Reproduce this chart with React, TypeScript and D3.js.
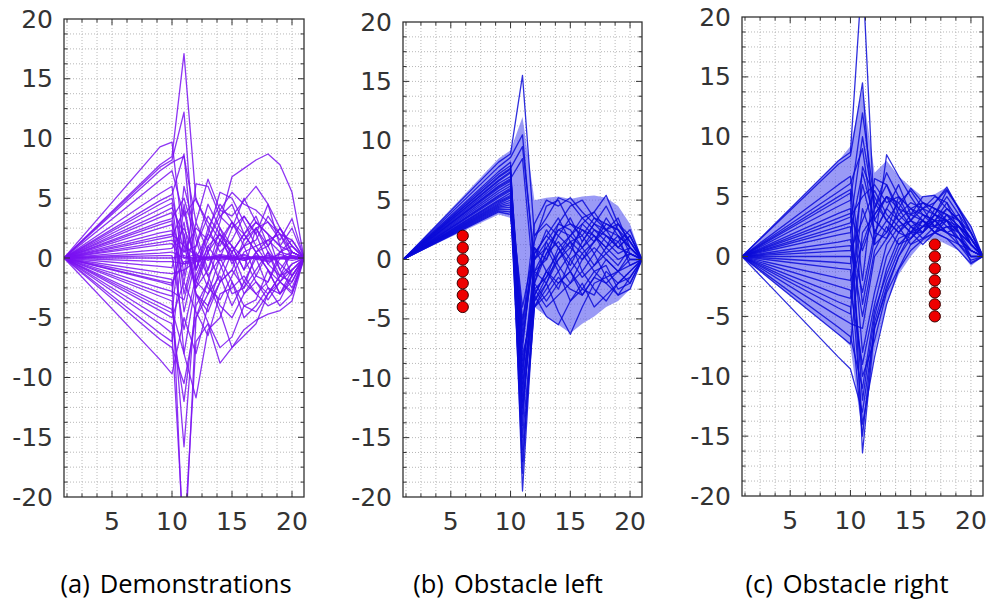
import React from "react";
import * as d3 from "d3";

// x positions at which every trajectory is sampled (straight segment from x=1 to x=9)
const X_STEPS = [1, 9, 10, 11, 12, 13, 14, 15, 16, 17, 18, 19, 20, 21];
const X_MAJOR = [5, 10, 15, 20];
const Y_MAJOR = [-20, -15, -10, -5, 0, 5, 10, 15, 20];
const X_DOMAIN = [1, 21];
const Y_DOMAIN = [-20, 20];

// (a) Demonstrations
const demoTrajectories: number[][] = [
  [0, 9.3, 9.7, 1.0, -2.5, 0.5, 2.0, 1.0, -1.0, 0.5, 1.5, 0.5, 0.2, 0],
  [0, 7.8, 8.5, 17.1, 4.8, 3.0, 1.5, 0.5, 2.0, 3.0, 2.0, 1.0, 0.5, 0],
  [0, 7.6, 8.2, 12.2, -1.0, 2.5, 4.5, 3.0, 1.5, 2.5, 0.5, -1.5, 0.5, 0],
  [0, 7.3, 8.0, 8.5, 3.0, 6.6, 4.0, 5.5, 4.5, 4.0, 3.0, 2.0, 1.5, 0],
  [0, 6.5, 7.3, 3.5, 5.0, 2.5, 0.5, 1.5, 3.5, 2.0, 4.5, 2.5, 1.0, 0],
  [0, 5.4, 6.0, -1.5, 6.2, 6.0, 3.5, 4.5, 2.0, 3.5, 1.0, 2.5, 1.0, 0],
  [0, 4.8, 5.3, 8.7, -2.0, 0.5, 3.0, 6.8, 7.5, 8.2, 8.7, 7.8, 5.5, 0],
  [0, 4.5, 5.0, 0.5, 2.5, 1.5, 4.0, 3.5, 4.8, 6.0, 4.5, 1.0, -1.5, 0],
  [0, 4.1, 4.6, -3.0, 1.0, 3.5, 2.0, -0.5, 1.0, 2.5, 3.0, 1.5, 3.3, 0],
  [0, 3.7, 4.2, 2.0, -2.5, -1.0, 1.5, 3.0, 2.0, 0.5, -1.0, -2.0, -0.5, 0],
  [0, 3.4, 3.8, -4.5, 0.0, 2.0, 5.5, 5.0, 3.0, 1.0, 1.5, 2.0, 0.0, 0],
  [0, 3.0, 3.3, 5.0, 1.5, -1.5, 0.0, 2.5, 3.5, 2.0, -0.5, 0.5, 1.0, 0],
  [0, 2.8, 3.1, -8.0, -2.0, -3.0, -1.5, -4.0, -2.0, 0.0, -2.5, -4.0, -3.0, 0],
  [0, 2.5, 2.8, 0.0, 0.3, -0.2, 0.2, 0.0, 0.3, -0.1, 0.2, 0.0, 0.1, 0],
  [0, 2.1, 2.3, -2.0, 3.0, 0.5, -2.0, -1.0, 1.5, 3.0, 2.0, -1.0, -2.5, 0],
  [0, 1.8, 2.0, 1.0, 0.2, 0.0, 0.3, 0.1, -0.2, 0.2, 0.0, 0.3, 0.0, 0],
  [0, 1.6, 1.8, 4.0, -1.0, 2.0, 1.0, 3.0, 1.0, -1.5, -2.0, 0.5, 1.5, 0],
  [0, 1.3, 1.5, 0.5, 1.0, 4.5, 2.5, 0.0, 1.0, 1.5, 3.5, 2.0, 0.5, 0],
  [0, 1.1, 1.2, -0.5, -0.3, 0.1, -0.2, 0.0, 0.2, -0.1, -0.3, 0.0, 0.2, 0],
  [0, 0.7, 0.8, 2.5, 0.0, -2.5, -3.5, -1.5, 0.5, 1.0, -0.5, -1.5, -1.0, 0],
  [0, 0.4, 0.5, 0.0, 0.0, 0.1, 0.0, -0.1, 0.0, 0.1, 0.0, 0.0, 0.0, 0],
  [0, 0.2, 0.2, -6.0, -1.5, 1.0, 2.0, 0.5, -2.0, -3.0, -2.0, 0.0, 0.5, 0],
  [0, 0.0, 0.0, 0.2, -0.1, 0.0, 0.1, -0.1, 0.0, 0.0, 0.1, -0.1, 0.0, 0],
  [0, -0.3, -0.3, -0.5, 0.1, -0.1, 0.0, 0.2, -0.1, 0.0, -0.2, 0.1, 0.0, 0],
  [0, -0.7, -0.8, 3.0, -3.0, -4.5, -2.0, 0.5, 2.0, 0.5, -1.0, -3.0, -1.5, 0],
  [0, -1.2, -1.3, -1.0, -0.3, 0.0, 0.2, -0.2, 0.0, 0.1, -0.1, 0.0, -0.2, 0],
  [0, -1.6, -1.8, -26.0, -5.0, -2.0, 1.5, 0.0, -3.0, -1.5, 0.5, -2.0, -1.0, 0],
  [0, -1.9, -2.1, -0.3, -0.2, 0.0, 0.1, 0.0, -0.2, 0.1, 0.0, 0.0, 0.1, 0],
  [0, -2.0, -2.3, 1.5, -2.0, 1.0, -0.5, -3.0, -2.5, 0.5, 1.0, -1.0, 0.5, 0],
  [0, -2.5, -2.8, -3.5, 0.5, -1.5, -4.0, -5.0, -3.0, -2.0, -3.5, -2.0, -2.8, 0],
  [0, -2.9, -3.2, 6.0, 2.0, -1.0, 2.5, 1.0, -1.0, 2.5, 1.0, 2.5, 0.5, 0],
  [0, -3.2, -3.6, -15.8, -3.0, -4.0, -1.0, 1.0, 0.0, -2.0, -3.0, -1.5, -0.5, 0],
  [0, -3.8, -4.3, -8.0, -11.7, -6.0, -5.0, -2.0, -4.0, -3.5, -1.0, -3.0, -2.0, 0],
  [0, -4.1, -4.6, 4.5, -1.0, 1.5, 3.5, 2.5, 5.0, 3.0, 2.0, 1.0, 2.5, 0],
  [0, -4.4, -5.0, -2.0, -4.5, -6.5, -3.0, -2.5, -1.5, -3.0, -4.0, -3.5, -1.5, 0],
  [0, -5.0, -5.5, -12.0, -4.0, -2.0, -4.5, -7.5, -6.5, -5.5, -3.0, -2.0, -3.0, 0],
  [0, -5.5, -6.3, -24.0, -7.0, -5.5, -8.8, -7.5, -6.0, -5.2, -4.7, -4.4, -3.6, 0],
  [0, -6.3, -7.0, 2.0, -3.0, -5.4, -7.5, -6.6, -4.0, -4.5, -3.0, -1.5, -2.0, 0],
  [0, -6.8, -7.5, -10.5, -5.0, -3.0, 0.0, -2.0, -5.0, -4.0, -2.5, -3.0, -1.0, 0],
  [0, -8.5, -9.7, -5.0, -8.0, -4.0, -2.0, -1.0, -2.5, -1.0, 0.5, -0.5, -1.5, 0],
];

// (b) Obstacle left
const leftTrajectories: number[][] = [
  [0, 8.2, 8.9, 15.5, 2.0, 3.5, 5.2, 4.8, 3.5, 4.0, 5.4, 3.0, 2.0, 0],
  [0, 7.8, 8.6, 10.5, -1.0, 1.0, 2.5, 3.0, 2.0, 3.5, 3.0, 2.5, 1.5, 0],
  [0, 7.4, 8.2, -19.5, -3.0, -1.0, 0.5, 2.0, 1.0, 2.5, 1.5, 0.5, 1.0, 0],
  [0, 7.2, 7.9, -11.0, -2.0, 1.5, 3.0, 4.5, 5.0, 3.5, 2.5, 2.0, 1.0, 0],
  [0, 7.0, 7.7, 9.5, 0.0, 2.5, 1.0, 2.0, 3.0, 4.0, 2.5, 1.0, 2.0, 0],
  [0, 6.9, 7.6, -8.0, -4.0, -2.0, -4.4, -6.3, -4.0, -2.0, -1.5, -3.0, -2.5, 0],
  [0, 6.7, 7.4, -10.0, 0.0, 1.5, -0.5, -2.0, 0.0, 1.5, 2.5, 3.5, 1.0, 0],
  [0, 6.6, 7.3, -14.0, 0.5, 2.0, 1.0, -0.5, 1.5, 3.0, 2.0, 1.0, 0.5, 0],
  [0, 6.4, 7.0, -6.0, 1.5, 4.5, 5.0, 3.0, 2.5, 1.5, 3.5, 2.0, -0.5, 0],
  [0, 6.2, 6.8, 8.5, -2.5, -1.5, 0.0, 1.5, -1.0, 0.5, 2.0, 1.5, 0.0, 0],
  [0, 6.1, 6.7, -7.0, 1.0, 0.0, 3.0, 2.5, 1.0, -0.5, 0.5, 1.5, 2.5, 0],
  [0, 6.0, 6.6, -17.0, -4.0, -3.0, -1.5, -2.5, -3.0, -1.5, -2.0, -1.0, -0.5, 0],
  [0, 5.8, 6.4, -9.5, -1.0, 0.0, 2.0, 1.0, 2.5, 2.0, 1.0, 3.0, 1.5, 0],
  [0, 5.6, 6.2, -12.5, -2.5, -4.0, -3.0, -2.0, -1.0, -2.5, -3.5, -2.0, -1.0, 0],
  [0, 5.4, 6.0, -5.0, 0.0, 1.0, -1.0, 0.5, 3.0, 2.0, 0.5, -0.5, 1.0, 0],
  [0, 5.3, 5.9, -18.0, -2.0, -3.5, -2.0, -1.0, -2.5, -1.0, -0.5, -2.5, -2.0, 0],
  [0, 5.2, 5.8, -15.0, -3.5, -2.0, 0.0, 1.0, 0.0, 1.0, 0.0, -1.0, 0.5, 0],
  [0, 5.0, 5.6, -7.5, 2.0, 3.0, 2.0, 3.5, 1.5, 3.0, 4.5, 2.5, 0.5, 0],
  [0, 4.9, 5.4, -10.5, -3.0, -4.8, -5.5, -3.5, -2.0, -4.0, -3.0, -2.0, -1.5, 0],
  [0, 4.8, 5.3, -12.0, -3.5, -1.5, 1.0, -1.0, -3.0, -1.5, 0.0, -1.0, -2.0, 0],
  [0, 4.7, 5.2, -13.0, -1.5, 0.5, 1.5, 0.0, -1.5, -0.5, 1.0, 0.0, 0.5, 0],
  [0, 4.6, 5.0, -4.0, 1.0, -1.0, -2.0, -1.0, 0.5, -1.0, -2.0, -3.0, -1.5, 0],
  [0, 4.5, 4.8, -9.0, -2.0, 0.5, 2.5, 2.0, 3.5, 2.5, 2.0, 1.0, 2.0, 0],
  [0, 4.4, 4.6, -16.0, -4.0, -2.5, -1.0, -3.5, -2.5, -3.0, -1.0, -2.0, -1.0, 0],
  [0, 4.3, 4.4, -6.5, 0.5, 2.0, 3.5, 1.5, 0.5, 1.5, 3.0, 2.5, 1.0, 0],
  [0, 4.2, 4.2, -11.5, -1.0, -2.0, 0.5, 1.5, 2.0, 0.5, -1.5, -1.0, 0.0, 0],
  [0, 4.1, 4.0, -8.5, -3.0, -1.0, -2.5, 0.0, 1.0, 2.0, 1.0, 2.0, 1.0, 0],
  [0, 4.0, 3.8, -5.5, 3.0, 5.0, 4.5, 5.2, 4.0, 3.0, 2.5, 3.0, 1.5, 0],
];
const leftBandUpper = [0, 8.5, 9.2, 12.0, 5.0, 5.2, 5.3, 5.1, 5.3, 5.4, 5.2, 4.5, 3.0, 0];
const leftBandLower = [0, 3.8, 3.5, -15.0, -4.0, -4.8, -5.5, -6.2, -5.4, -4.8, -4.0, -3.5, -2.5, 0];
const leftObstacleX = 6;
const leftObstacleY = [2, 1, 0, -1, -2, -3, -4];

// (c) Obstacle right
const rightTrajectories: number[][] = [
  [0, 8.0, 8.7, 24.0, 3.0, 5.0, 4.5, 3.0, 4.0, 4.5, 5.8, 3.9, 2.0, 0],
  [0, 7.7, 8.4, 14.5, 1.0, 8.5, 6.7, 5.0, 3.5, 3.0, 4.0, 3.0, 1.5, 0],
  [0, 6.0, 6.7, -2.0, 6.5, 6.0, 4.0, 5.7, 4.5, 3.5, 5.5, 4.0, 2.5, 0],
  [0, 5.4, 6.1, 9.0, 2.0, 4.0, 6.0, 3.5, 5.0, 5.1, 4.0, 3.0, 1.0, 0],
  [0, 5.0, 5.6, -4.0, 1.5, 3.0, 4.5, 5.5, 4.0, 2.5, 3.0, 1.5, 0.5, 0],
  [0, 4.7, 5.3, -16.4, -6.0, -2.8, 0.0, 1.5, 2.5, 3.0, 2.0, 1.0, 0.5, 0],
  [0, 4.2, 4.7, 12.0, 4.5, 3.0, 2.0, 3.5, 3.0, 2.0, 3.5, 2.5, 1.0, 0],
  [0, 3.6, 4.0, -8.0, -3.0, 1.0, 2.5, 3.0, 2.0, 4.0, 3.0, 2.0, -0.5, 0],
  [0, 3.2, 3.6, 0.5, 3.5, 5.0, 3.0, 2.0, 1.0, 2.0, 1.5, 1.0, 0.0, 0],
  [0, 2.9, 3.3, 5.0, 6.0, 4.5, 5.0, 4.0, 3.0, 2.5, 2.0, 1.5, 0.5, 0],
  [0, 2.5, 2.8, 10.0, 4.0, 7.0, 5.0, 4.0, 4.5, 4.0, 3.5, 2.5, 1.5, 0],
  [0, 2.2, 2.5, -12.0, -5.0, -1.0, 1.5, 2.0, 3.5, 2.5, 3.5, 3.0, 1.5, 0],
  [0, 1.8, 2.0, 7.0, 3.0, 2.0, 3.5, 4.5, 4.0, 5.0, 4.5, 2.0, 1.0, 0],
  [0, 1.2, 1.4, -3.0, 2.0, 1.5, 4.0, 2.5, 1.5, 2.0, 2.5, 2.0, 0.0, 0],
  [0, 0.8, 0.9, -5.0, 0.5, 2.5, 1.0, 2.0, 3.0, 2.0, 1.5, 0.5, -0.6, 0],
  [0, 0.45, 0.5, 3.0, 5.5, 3.5, 2.5, 1.0, 2.0, 3.5, 2.5, 2.5, 1.5, 0],
  [0, 0.0, 0.0, -10.0, -7.0, -3.0, -1.0, 1.0, 1.5, 2.5, 4.0, 3.0, 2.0, 0],
  [0, -0.5, -0.6, 6.0, 2.0, 4.0, 3.0, 2.0, 2.5, 3.5, 3.0, 3.5, 1.0, 0],
  [0, -1.0, -1.1, -14.0, -8.4, -4.0, -1.1, 0.5, 1.4, 2.0, 2.5, 1.5, 0.0, 0],
  [0, -1.8, -2.0, 1.0, 4.0, 6.0, 3.5, 2.5, 2.0, 3.0, 4.5, 3.0, 1.5, 0],
  [0, -2.5, -2.8, -9.0, -4.0, 0.0, 2.0, 3.0, 4.5, 4.0, 3.5, 2.0, 0.5, 0],
  [0, -3.2, -3.5, 4.0, 1.0, 2.0, 5.0, 3.0, 2.5, 2.5, 2.0, 2.5, 1.5, 0],
  [0, -3.8, -4.2, -15.0, -5.5, -2.0, 0.5, 2.5, 3.0, 2.0, 3.0, 2.5, 1.0, 0],
  [0, -4.3, -4.8, 7.5, 5.0, 3.0, 2.0, 1.5, 3.0, 4.5, 5.6, 4.0, 2.0, 0],
  [0, -5.0, -5.6, -6.0, 0.0, 1.5, 3.0, 4.0, 3.5, 3.0, 2.0, 1.5, 0.5, 0],
  [0, -5.9, -6.7, -11.0, -4.5, -1.5, 1.0, 1.5, 2.5, 3.5, 5.0, 3.5, 2.0, 0],
  [0, -6.5, -7.3, 2.0, 3.5, 5.0, 4.0, 3.5, 4.0, 3.5, 3.0, 2.0, 1.0, 0],
  [0, -8.4, -9.4, -13.0, -6.0, -2.5, 0.0, 2.0, 2.0, 3.0, 3.0, 1.0, -0.3, 0],
];
const rightBandUpper = [0, 8.0, 9.2, 14.0, 7.0, 8.0, 6.7, 5.8, 5.0, 5.2, 5.8, 4.2, 2.6, 0];
const rightBandLower = [0, -6.5, -7.5, -15.0, -8.0, -4.0, -1.5, 0.0, 1.2, 1.5, 1.0, 0.5, -0.8, 0];
const rightObstacleX = 17;
const rightObstacleY = [1, 0, -1, -2, -3, -4, -5];

const captionTags = ["(a)", "(b)", "(c)"];
const captionTexts = ["Demonstrations", "Obstacle left", "Obstacle right"];

type PanelProps = {
  id: string;
  left: number;
  right: number;
  top: number;
  bottom: number;
  trajectories: number[][];
  lineColor: string;
  lineOpacity: number;
  bandUpper?: number[];
  bandLower?: number[];
  obstacleX?: number;
  obstacleY?: number[];
  tag: string;
  caption: string;
  captionX: number;
};

const FONT = "'DejaVu Sans', sans-serif";

function Panel(p: PanelProps) {
  const xs = d3.scaleLinear().domain(X_DOMAIN).range([p.left, p.right]);
  const ys = d3.scaleLinear().domain(Y_DOMAIN).range([p.bottom, p.top]);
  const xMinor = d3.range(1.25, 21, 1.25);
  const yMinor = d3.range(-18.75, 20, 1.25);
  const line = d3
    .line<number>()
    .x((_, i) => xs(X_STEPS[i]))
    .y((d) => ys(d));
  const area = d3
    .area<number>()
    .x((_, i) => xs(X_STEPS[i]))
    .y0((_, i) => ys(p.bandLower![i]))
    .y1((d) => ys(d));
  const isMajor = (v: number) => Math.abs(v % 5) < 1e-6;
  return (
    <g>
      <defs>
        <clipPath id={p.id}>
          <rect x={p.left} y={p.top} width={p.right - p.left} height={p.bottom - p.top} />
        </clipPath>
      </defs>
      <rect x={p.left} y={p.top} width={p.right - p.left} height={p.bottom - p.top} fill="#fff" />
      <g stroke="#b8b8b8" strokeWidth={1} strokeDasharray="1 2">
        {xMinor.map((v) => (
          <line key={"gx" + v} x1={xs(v)} x2={xs(v)} y1={p.top} y2={p.bottom} />
        ))}
        {yMinor.map((v) => (
          <line key={"gy" + v} x1={p.left} x2={p.right} y1={ys(v)} y2={ys(v)} />
        ))}
      </g>
      <g clipPath={`url(#${p.id})`}>
        {p.bandUpper && p.bandLower && (
          <path d={area(p.bandUpper) || ""} fill="rgb(92,92,240)" fillOpacity={0.62} stroke="none" />
        )}
        {p.trajectories.map((t, i) => (
          <path
            key={i}
            d={line(t) || ""}
            fill="none"
            stroke={p.lineColor}
            strokeOpacity={p.lineOpacity}
            strokeWidth={1.3}
            strokeLinejoin="round"
          />
        ))}
      </g>
      {p.obstacleY &&
        p.obstacleY.map((v, i) => (
          <circle
            key={"o" + i}
            cx={xs(p.obstacleX!)}
            cy={ys(v)}
            r={5.6}
            fill="#ee0000"
            stroke="#3a0000"
            strokeWidth={1}
          />
        ))}
      <rect
        x={p.left}
        y={p.top}
        width={p.right - p.left}
        height={p.bottom - p.top}
        fill="none"
        stroke="#333"
        strokeWidth={1.3}
      />
      <g stroke="#333" strokeWidth={1}>
        {xMinor.map((v) => {
          const len = isMajor(v) ? 6 : 3.5;
          return (
            <g key={"tx" + v}>
              <line x1={xs(v)} x2={xs(v)} y1={p.bottom} y2={p.bottom - len} />
              <line x1={xs(v)} x2={xs(v)} y1={p.top} y2={p.top + len} />
            </g>
          );
        })}
        {yMinor.map((v) => {
          const len = isMajor(v) ? 6 : 3.5;
          return (
            <g key={"ty" + v}>
              <line x1={p.left} x2={p.left + len} y1={ys(v)} y2={ys(v)} />
              <line x1={p.right} x2={p.right - len} y1={ys(v)} y2={ys(v)} />
            </g>
          );
        })}
      </g>
      <g fill="#333" fontFamily={FONT} fontSize={25}>
        {Y_MAJOR.map((v) => (
          <text key={"ly" + v} x={p.left - 11} y={ys(v)} textAnchor="end" dominantBaseline="central">
            {v}
          </text>
        ))}
        {X_MAJOR.map((v) => (
          <text key={"lx" + v} x={xs(v)} y={p.bottom + 33} textAnchor="middle">
            {v}
          </text>
        ))}
      </g>
      <text
        x={p.captionX}
        y={593}
        textAnchor="middle"
        fontFamily="'Open Sans', sans-serif"
        fontSize={25.5}
        fill="#000"
      >
        <tspan>{p.tag}</tspan>
        <tspan dx={10}>{p.caption}</tspan>
      </text>
    </g>
  );
}

export default function App() {
  return (
    <svg
      width={987}
      height={601}
      viewBox="0 0 987 601"
      style={{ position: "absolute", left: 0, top: 0, background: "#fff" }}
    >
      <rect width={987} height={601} fill="#fff" />
      <Panel
        id="clipA"
        left={64}
        right={304}
        top={19}
        bottom={497}
        trajectories={demoTrajectories}
        lineColor="#7a12f2"
        lineOpacity={0.85}
        tag={captionTags[0]}
        caption={captionTexts[0]}
        captionX={176}
      />
      <Panel
        id="clipB"
        left={403}
        right={642}
        top={22}
        bottom={497}
        trajectories={leftTrajectories}
        lineColor="#0a0ad8"
        lineOpacity={0.85}
        bandUpper={leftBandUpper}
        bandLower={leftBandLower}
        obstacleX={leftObstacleX}
        obstacleY={leftObstacleY}
        tag={captionTags[1]}
        caption={captionTexts[1]}
        captionX={508}
      />
      <Panel
        id="clipC"
        left={742}
        right={983}
        top={17}
        bottom={496}
        trajectories={rightTrajectories}
        lineColor="#0a0ad8"
        lineOpacity={0.85}
        bandUpper={rightBandUpper}
        bandLower={rightBandLower}
        obstacleX={rightObstacleX}
        obstacleY={rightObstacleY}
        tag={captionTags[2]}
        caption={captionTexts[2]}
        captionX={847}
      />
    </svg>
  );
}
